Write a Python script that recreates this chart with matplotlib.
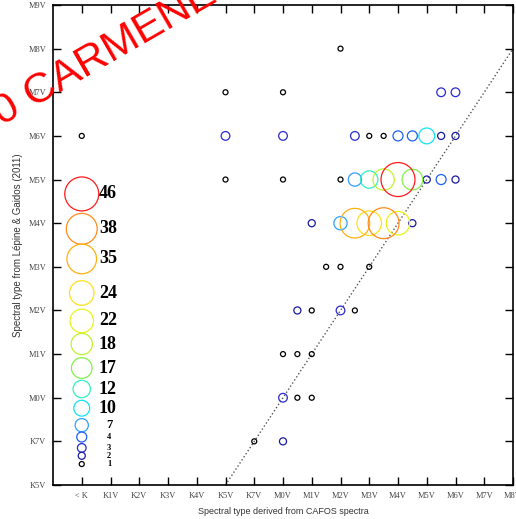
import numpy as np
import matplotlib
matplotlib.use("Agg")
import matplotlib.pyplot as plt

# spectral type axes (index positions)
x_labels = ["< K", "K1V", "K2V", "K3V", "K4V", "K5V", "K7V", "M0V", "M1V",
            "M2V", "M3V", "M4V", "M5V", "M6V", "M7V", "M8V"]
y_labels = ["K5V", "K7V", "M0V", "M1V", "M2V", "M3V", "M4V", "M5V",
            "M6V", "M7V", "M8V", "M9V"]

# CAFOS type (x), Lepine & Gaidos type (y), number of stars
x_cafos = [1, 6, 6, 6, 7, 8, 8, 8, 8, 8, 8,
           8.5, 8.5, 8.5, 9, 9, 9, 9, 9.5,
           10, 10, 10, 10, 10,
           10.5, 10.5, 10.5, 10.5,
           11, 11, 11, 11,
           11.5, 11.5, 11.5,
           12, 12, 12,
           12.5, 12.5, 12.5,
           13, 13,
           13.5, 13.5, 13.5,
           14, 14, 14]
y_lg = [8, 9, 8, 7, 1, 9, 8, 7, 3, 2, 1,
        4, 3, 2, 6, 4, 3, 2, 5,
        10, 7, 6, 5, 4,
        8, 7, 6, 4,
        8, 7, 6, 5,
        8, 7, 6,
        8, 7, 6,
        8, 7, 6,
        8, 7,
        9, 8, 7,
        9, 8, 7]
n_stars = [1, 1, 3, 1, 1, 1, 3, 1, 1, 3, 2,
           2, 1, 1, 2, 1, 1, 1, 1,
           1, 1, 7, 1, 3,
           3, 7, 35, 1,
           1, 12, 24, 1,
           1, 18, 38,
           4, 46, 22,
           4, 17, 2,
           10, 2,
           3, 2, 4,
           3, 2, 2]

# legend: counts and their colours
leg_counts = [46, 38, 35, 24, 22, 18, 17, 12, 10, 7, 4, 3, 2, 1]
leg_colors = ["#ff1a1a", "#ff8c1a", "#ffb10f", "#ffe01a", "#eaf515", "#c2f22e",
              "#84f04a", "#33f0c0", "#14e0f5", "#30a0ff", "#2060f0", "#2a2ad0",
              "#1a1aa0", "#000000"]
leg_y = [6.67, 5.87, 5.18, 4.40, 3.76, 3.23, 2.68, 2.20, 1.76, 1.37, 1.10,
         0.85, 0.67, 0.48]

color_of = dict(zip(leg_counts, leg_colors))

fig = plt.figure(figsize=(5.16, 5.19), dpi=100)
ax = fig.add_axes([53/516, 34/519, 460/516, 480/519])

x = np.array(x_cafos)
y = np.array(y_lg)
n = np.array(n_stars)
order = np.argsort(n)
ax.scatter(x[order], y[order], s=13*n[order], facecolors="none",
           edgecolors=[color_of[k] for k in n[order]], linewidths=0.9, zorder=3)

# 1:1 relation
ax.plot([6, 16], [0, 10], ls=":", color="#555555", lw=1.0, zorder=2)

# size/colour legend
leg_n = np.array(leg_counts)
ax.scatter(np.ones(len(leg_n)), leg_y, s=13*leg_n, facecolors="none",
           edgecolors=leg_colors, linewidths=0.9, zorder=3)
for c, yy in zip(leg_counts, leg_y):
    if c >= 10:
        fs, xx = 13, 1.6
    elif c >= 7:
        fs, xx = 9, 1.85
    else:
        fs, xx = 6, 1.88
    ax.text(xx, yy, str(c), fontsize=fs, family="Liberation Serif",
            fontweight="bold", va="center", ha="left")

ax.set_xlim(0, 16)
ax.set_ylim(0, 11)
ax.set_xticks(np.arange(1, 17))
ax.set_xticklabels(x_labels)
ax.set_yticks(np.arange(0, 12))
ax.set_yticklabels(y_labels)
ax.tick_params(direction="in", length=6, width=1, top=True, right=True,
               labelsize=6, labelcolor="#444444", pad=5)
for lab in ax.get_xticklabels() + ax.get_yticklabels():
    lab.set_family("Liberation Serif")
for sp in ax.spines.values():
    sp.set_linewidth(1.2)

ax.set_xlabel("Spectral type derived from CAFOS spectra", fontsize=6.5,
              family="Liberation Sans", color="#333333")
ax.set_ylabel("Spectral type from L\u00e9pine & Gaidos (2011)", fontsize=7,
              family="Liberation Sans", color="#333333")
ax.xaxis.set_label_coords(0.5, -0.046)
ax.yaxis.set_label_coords(-0.066, 0.5)

fig.text(-19/516, 1 - 138/519, "50 CARMENES", fontsize=31, color="red",
         family="Liberation Sans", rotation=30, rotation_mode="anchor",
         ha="left", va="baseline", zorder=10)

fig.savefig("out.png", dpi=100)
